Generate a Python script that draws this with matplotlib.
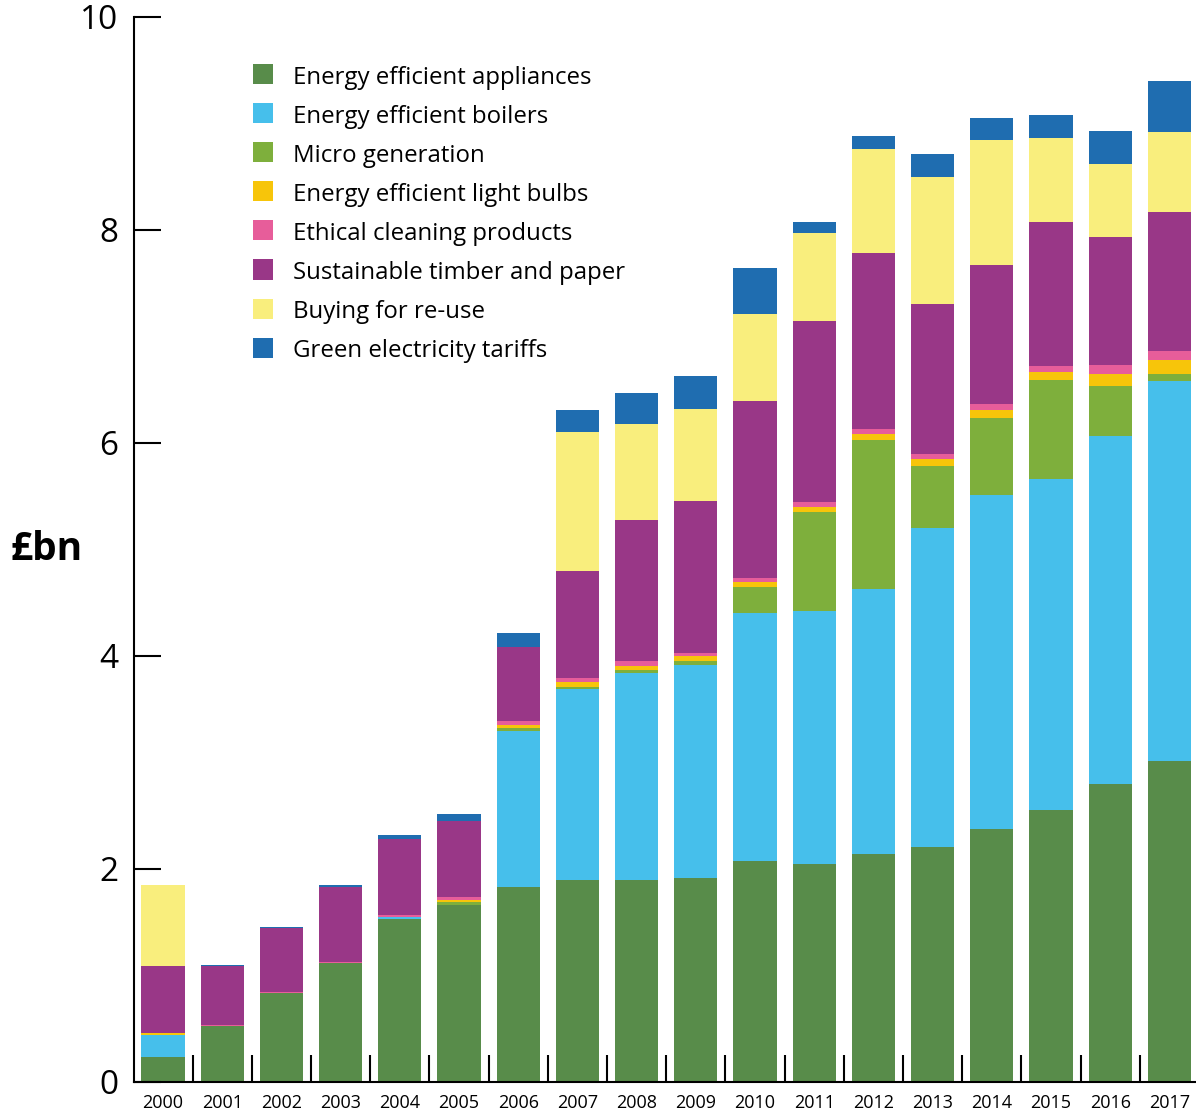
import matplotlib
matplotlib.use("Agg")
import matplotlib.pyplot as plt
from matplotlib.patches import Rectangle
import numpy as np

plt.rcParams['font.family'] = ['Open Sans', 'DejaVu Sans']

years = [str(y) for y in range(2000, 2018)]

series_names = [
    "Energy efficient appliances",
    "Energy efficient boilers",
    "Micro generation",
    "Energy efficient light bulbs",
    "Ethical cleaning products",
    "Sustainable timber and paper",
    "Buying for re-use",
    "Green electricity tariffs",
]

colors = ["#588C4A", "#46BFEB", "#7EAF3C", "#F7C50A",
          "#E75D9A", "#993787", "#F9EE7D", "#1F6DB0"]

# £bn, 2000-2017
appliances = [0.23, 0.52, 0.83, 1.11, 1.53, 1.66, 1.83, 1.895, 1.895, 1.91,
              2.07, 2.045, 2.14, 2.205, 2.375, 2.55, 2.795, 3.01]
boilers    = [0.21, 0.0, 0.0, 0.0, 0.015, 0.0, 1.465, 1.79, 1.94, 2.0,
              2.33, 2.375, 2.485, 2.995, 3.135, 3.11, 3.27, 3.57]
micro      = [0.0, 0.0, 0.0, 0.0, 0.0, 0.025, 0.03, 0.02, 0.03, 0.04,
              0.245, 0.93, 1.40, 0.58, 0.725, 0.93, 0.47, 0.065]
bulbs      = [0.02, 0.0, 0.0, 0.0, 0.0, 0.02, 0.02, 0.047, 0.04, 0.045,
              0.047, 0.047, 0.057, 0.066, 0.075, 0.075, 0.112, 0.132]
cleaning   = [0.0, 0.01, 0.01, 0.015, 0.02, 0.03, 0.04, 0.037, 0.045, 0.035,
              0.038, 0.046, 0.047, 0.046, 0.056, 0.056, 0.086, 0.084]
timber     = [0.63, 0.56, 0.60, 0.70, 0.71, 0.71, 0.70, 1.01, 1.32, 1.42,
              1.66, 1.70, 1.65, 1.41, 1.30, 1.35, 1.20, 1.305]
reuse      = [0.76, 0.0, 0.0, 0.0, 0.0, 0.0, 0.0, 1.30, 0.91, 0.865,
              0.82, 0.825, 0.975, 1.195, 1.18, 0.79, 0.68, 0.75]
tariffs    = [0.0, 0.01, 0.01, 0.02, 0.04, 0.065, 0.125, 0.21, 0.29, 0.31,
              0.43, 0.105, 0.13, 0.215, 0.205, 0.215, 0.31, 0.48]

yticks = [0, 2, 4, 6, 8, 10]

W, H = 1196, 1110
fig = plt.figure(figsize=(W / 100, H / 100), dpi=100)
ax = fig.add_axes([133.5 / W, 28.3 / H, 1065.5 / W, (1081.7 - 16.7) / H])
ax.set_clip_on(False)

data = [appliances, boilers, micro, bulbs, cleaning, timber, reuse, tariffs]
x = np.arange(len(years))
bottom = np.zeros(len(years))
for vals, col in zip(data, colors):
    vals = np.asarray(vals)
    ax.bar(x, vals, width=0.73, bottom=bottom, color=col, linewidth=0)
    bottom += vals

ax.set_xlim(-0.5, len(years) - 0.5)
ax.set_ylim(0, 10)

for s in ("top", "right"):
    ax.spines[s].set_visible(False)
for s in ("left", "bottom"):
    ax.spines[s].set_linewidth(1.5)
    ax.spines[s].set_color("black")

ax.set_yticks(yticks)
ax.set_yticklabels([str(t) for t in yticks])
ax.tick_params(axis="y", direction="in", length=19.5, width=1.5,
               labelsize=24, pad=11)

ax.set_xticks(x)
ax.set_xticklabels(years)
ax.tick_params(axis="x", which="major", length=0, labelsize=13, pad=9)
ax.set_xticks(x[:-1] + 0.5, minor=True)
ax.tick_params(axis="x", which="minor", direction="in", length=19.5, width=1.5)

fig.text(10 / W, 1 - 549 / H, "£bn", fontsize=28, fontweight="bold",
         ha="left", va="center")

# legend drawn as a column of swatches with labels
for i, (name, col) in enumerate(zip(series_names, colors)):
    yc = 74 + i * 39.1
    fig.patches.append(Rectangle((253 / W, 1 - (yc + 10) / H), 20 / W, 20 / H,
                                 transform=fig.transFigure, color=col,
                                 linewidth=0))
    fig.text(293 / W, 1 - (yc + 9.5) / H, name, fontsize=17.3,
             ha="left", va="baseline")

fig.savefig("out.png", dpi=100)
